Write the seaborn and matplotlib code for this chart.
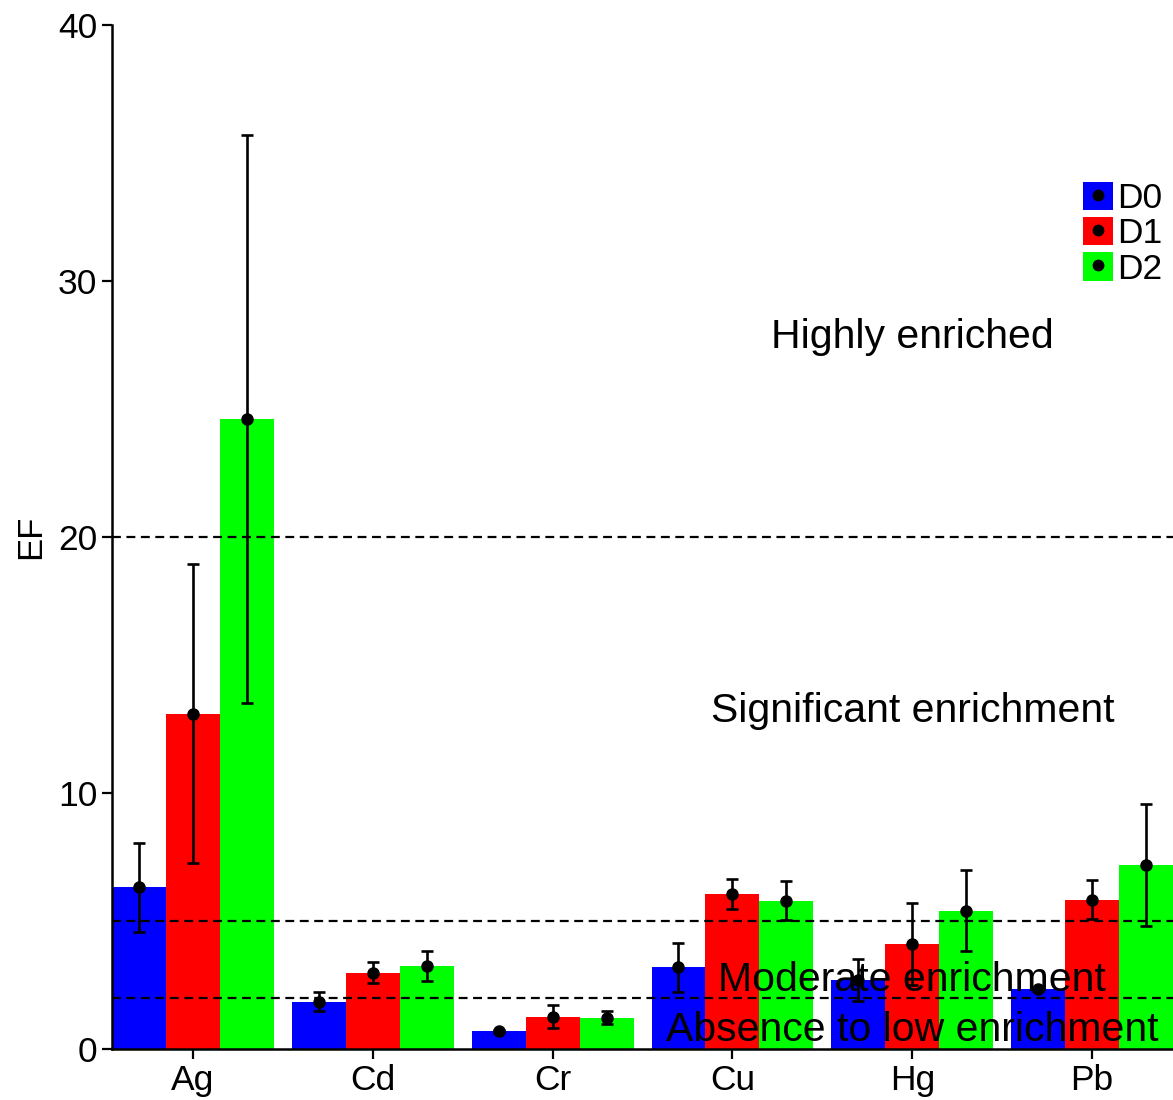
import numpy as np
import pandas as pd
import seaborn as sns
import matplotlib
matplotlib.use('Agg')
import matplotlib.pyplot as plt
from matplotlib.patches import Patch
from matplotlib.lines import Line2D

# values
elements = ['Ag', 'Cd', 'Cr', 'Cu', 'Hg', 'Pb']
groups = ['D0', 'D1', 'D2']
d0_mean = [6.33, 1.85, 0.70, 3.19, 2.70, 2.33]
d1_mean = [13.09, 2.97, 1.25, 6.05, 4.09, 5.82]
d2_mean = [24.60, 3.23, 1.21, 5.78, 5.39, 7.18]
d0_low = [4.57, 1.50, 0.64, 2.23, 1.89, 2.28]
d0_high = [8.05, 2.24, 0.76, 4.14, 3.52, 2.38]
d1_low = [7.27, 2.57, 0.81, 5.46, 2.50, 5.07]
d1_high = [18.95, 3.41, 1.72, 6.65, 5.69, 6.60]
d2_low = [13.50, 2.64, 0.99, 5.04, 3.84, 4.80]
d2_high = [35.70, 3.82, 1.48, 6.58, 6.99, 9.57]
colors = ['#0000FF', '#FF0000', '#00FF00']
thresholds = [2, 5, 20]
zone_labels = ['Absence to low enrichment', 'Moderate enrichment',
               'Significant enrichment', 'Highly enriched']
zone_y = [0.75, 2.7, 13.2, 27.8]

means = [d0_mean, d1_mean, d2_mean]
lows = [d0_low, d1_low, d2_low]
highs = [d0_high, d1_high, d2_high]

df = pd.DataFrame({
    'element': elements * 3,
    'group': np.repeat(groups, len(elements)),
    'EF': d0_mean + d1_mean + d2_mean,
})

sns.set_style('white')
plt.rcParams['font.family'] = ['Liberation Sans', 'DejaVu Sans']
plt.rcParams['text.color'] = 'black'
plt.rcParams['axes.labelcolor'] = 'black'
plt.rcParams['xtick.color'] = 'black'
plt.rcParams['ytick.color'] = 'black'

fig = plt.figure(figsize=(11.73, 11), dpi=100)
ax = fig.add_axes([0.0955, 0.0464, 0.9045, 0.9309])

sns.barplot(data=df, x='element', y='EF', hue='group', order=elements,
            hue_order=groups, palette=colors, errorbar=None, width=0.9,
            saturation=1, linewidth=0, ax=ax)

# error bars + mean dots at the bar centres
bar_sets = list(ax.containers)
for i, cont in enumerate(bar_sets):
    xs = [p.get_x() + p.get_width() / 2 for p in cont.patches]
    m = np.array(means[i])
    yerr = [m - np.array(lows[i]), np.array(highs[i]) - m]
    ax.errorbar(xs, m, yerr=yerr, fmt='o', color='black', ms=8,
                elinewidth=1.9, capsize=4.5, capthick=1.9, zorder=4)

for t in thresholds:
    ax.axhline(t, color='black', lw=1.6, ls=(0, (4, 2.5)), zorder=3)

for lab, y in zip(zone_labels, zone_y):
    ax.text(4.0, y, lab, ha='center', va='center', fontsize=29.5,
            color='black', zorder=6)

ax.set_xlim(-0.45, 5.45)
ax.set_ylim(0, 40)
ax.set_yticks([0, 10, 20, 30, 40])
ax.set_xlabel('')
ax.set_ylabel('EF', fontsize=25, labelpad=8)
ax.tick_params(axis='both', labelsize=25.5, length=7, width=1.6,
               direction='out', color='black', labelcolor='black',
               left=True, bottom=True)
for s in ['top', 'right']:
    ax.spines[s].set_visible(False)
for s in ['left', 'bottom']:
    ax.spines[s].set_color('black')
    ax.spines[s].set_linewidth(1.8)

handles = [(Patch(facecolor=c, edgecolor='none'),
            Line2D([], [], marker='o', color='black', ls='None', ms=7.5))
           for c in colors]
ax.legend(handles, groups, loc='upper left', bbox_to_anchor=(0.915, 0.847),
          frameon=False, fontsize=25.5, handlelength=0.86, handleheight=0.86,
          handletextpad=0.12, labelspacing=0.05, borderpad=0, borderaxespad=0)

fig.savefig('out.png', dpi=100)
